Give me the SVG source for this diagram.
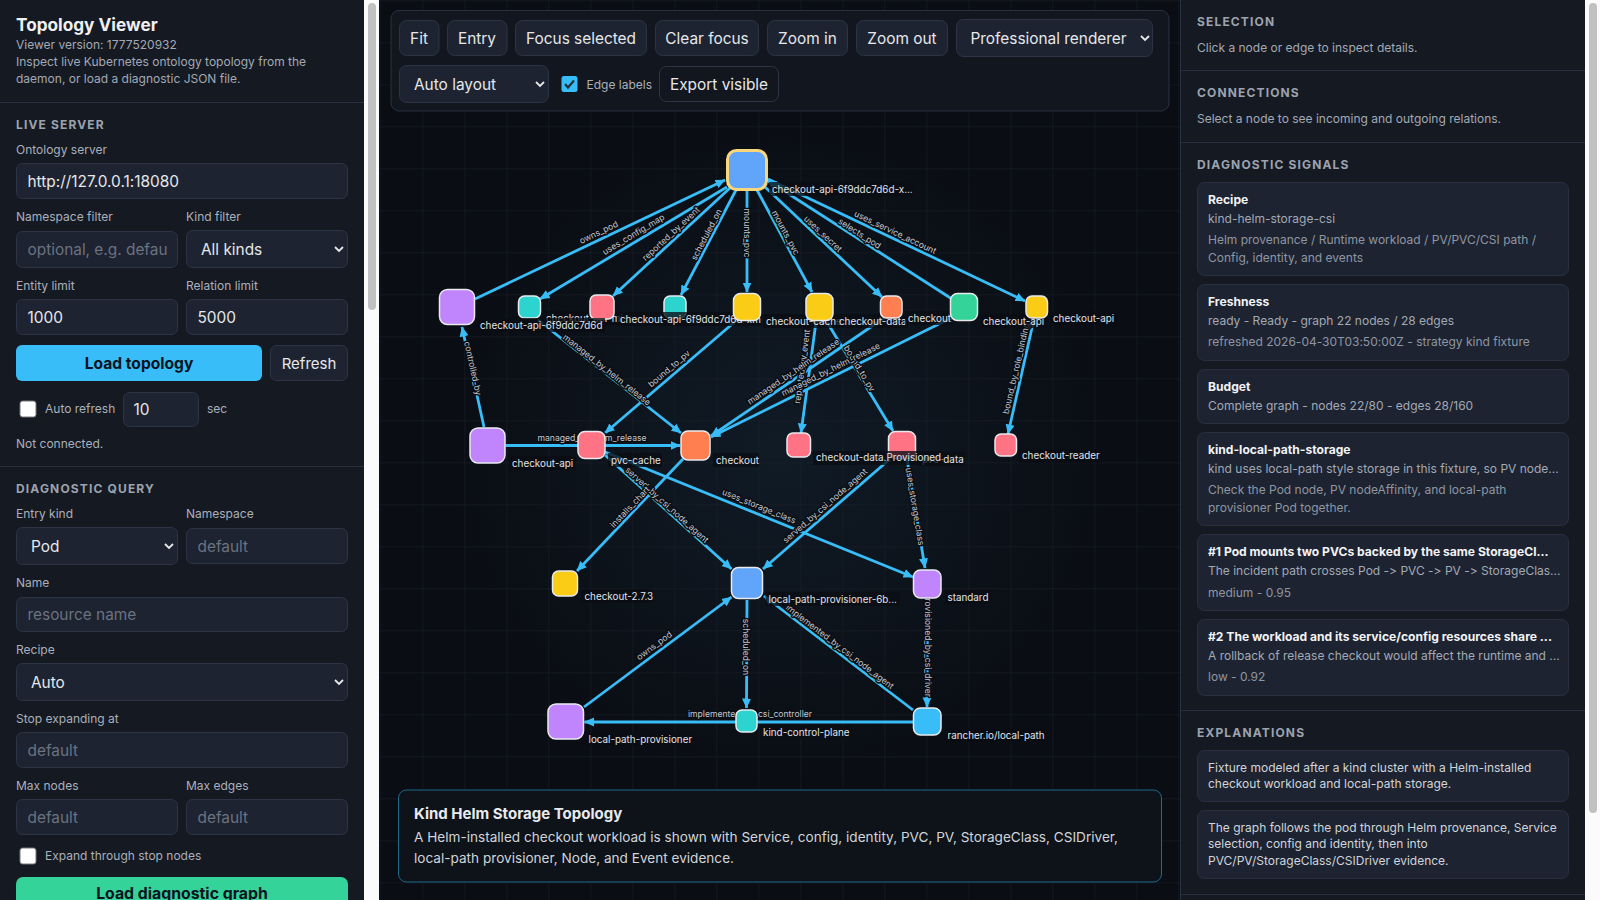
<svg xmlns="http://www.w3.org/2000/svg" width="1600" height="900" viewBox="0 0 1600 900">
<style>
text{font-family:Inter,"Noto Sans","Liberation Sans",sans-serif;font-feature-settings:"calt" 0,"liga" 0;font-variant-ligatures:none}
.panel{fill:#151922}
.div{stroke:#2a3040;stroke-width:1}
.h{font-size:12px;font-weight:700;letter-spacing:1.15px;fill:#9ca3af}
.l{font-size:12px;fill:#aab0bb}
.m{font-size:12px;fill:#a3a9b5}
.in{fill:#1d2330;stroke:#2d3445;stroke-width:1}
.v{font-size:15.400px;fill:#e5e7eb}
.ph{font-size:15.400px;fill:#6b7280}
.btn{fill:#1d2330;stroke:#2d3445;stroke-width:1}
.bt{font-size:15.400px;fill:#e5e7eb;text-anchor:middle}
.chev{fill:none;stroke:#e5e7eb;stroke-width:1.8}
.card{fill:#1d2330;stroke:#2a3040;stroke-width:1}
.ct{font-size:12.100px;font-weight:700;fill:#f1f3f6}
.cs{font-size:12px;fill:#a3a9b5}
.cd{font-size:12px;fill:#8f96a3}
.ex{font-size:12px;fill:#d1d5db}
.sbt{fill:#fbfbfb}
.sbh{fill:#c1c1c1}
.edges line{stroke:#38bdf8;stroke-width:2.800;marker-end:url(#arr)}
.el{font-size:8.600px;fill:#c3c8d0;text-anchor:middle;paint-order:stroke;stroke:#0a0e14;stroke-width:3px;stroke-linejoin:round}
.n{stroke:#e8eaee;stroke-width:1.500}
.lb{fill:#0a0d13;opacity:.78}
.nl{font-size:9.850px;fill:#e1e4e9}
</style>
<defs>
<marker id="arr" markerUnits="userSpaceOnUse" markerWidth="11" markerHeight="10" refX="9.500" refY="5" orient="auto"><path d="M0,0.500 L10,5 L0,9.500 Z" fill="#38bdf8"/></marker>
<pattern id="grid" width="42" height="42" patternUnits="userSpaceOnUse" x="2.300" y="0.300"><path d="M0 0H42M0 0V42" fill="none" stroke="#1b2029" stroke-width="1"/></pattern>
<radialGradient id="glow" gradientUnits="userSpaceOnUse" cx="780" cy="450" r="340"><stop offset="0" stop-color="#101b26"/><stop offset="1" stop-color="#0a0d13"/></radialGradient>
</defs>
<rect width="1600" height="900" fill="#0a0d13"/>
<rect x="379" y="0" width="802" height="900" fill="url(#glow)"/>
<rect x="379" y="0" width="802" height="900" fill="url(#grid)"/>

<g id="connectors" class="edges">
<line x1="475" y1="299" x2="725" y2="180"/>
<line x1="727" y1="187" x2="540" y2="299"/>
<line x1="730" y1="188" x2="613" y2="296"/>
<line x1="736" y1="190" x2="681" y2="295"/>
<line x1="747" y1="191" x2="747" y2="292"/>
<line x1="757" y1="190" x2="812" y2="292"/>
<line x1="765" y1="187" x2="882" y2="297"/>
<line x1="952" y1="299" x2="767" y2="180"/>
<line x1="768" y1="179" x2="1025" y2="301"/>
<line x1="484" y1="427" x2="462" y2="327"/>
<line x1="505.500" y1="445.500" x2="680" y2="445.500"/>
<line x1="538" y1="320" x2="681" y2="433"/>
<line x1="737" y1="320" x2="605" y2="433"/>
<line x1="816" y1="322" x2="801" y2="433"/>
<line x1="884" y1="318" x2="711" y2="436"/>
<line x1="951" y1="318" x2="711" y2="437"/>
<line x1="827" y1="322" x2="893" y2="431"/>
<line x1="1034" y1="319" x2="1008" y2="434"/>
<line x1="683" y1="459" x2="577" y2="571"/>
<line x1="605" y1="455" x2="731.500" y2="569"/>
<line x1="890" y1="459" x2="763" y2="569"/>
<line x1="907" y1="459" x2="925" y2="568"/>
<line x1="605" y1="452" x2="913" y2="577"/>
<line x1="927.500" y1="599" x2="927" y2="707"/>
<line x1="584" y1="707" x2="731.500" y2="597"/>
<line x1="747" y1="600" x2="746.500" y2="708"/>
<line x1="913" y1="710" x2="764" y2="596"/>
<line x1="913" y1="722" x2="584.500" y2="722"/>
<text class="el" transform="translate(600 235) rotate(-25.400)">owns_pod</text>
<text class="el" transform="translate(635 237) rotate(-31)">uses_config_map</text>
<text class="el" transform="translate(673 236) rotate(-42.800)">reported_by_event</text>
<text class="el" transform="translate(709 236) rotate(-62.400)">scheduled_on</text>
<text class="el" transform="translate(744 233) rotate(90)">mounts_pvc</text>
<text class="el" transform="translate(783 234) rotate(61.700)">mounts_pvc</text>
<text class="el" transform="translate(821 236) rotate(43.200)">uses_secret</text>
<text class="el" transform="translate(858 236) rotate(32.700)">selects_pod</text>
<text class="el" transform="translate(894 235) rotate(25.400)">uses_service_account</text>
<text class="el" transform="translate(470 369) rotate(77.600)">controlled_by</text>
<text class="el" transform="translate(592 441)">managed_by_helm_release</text>
<text class="el" transform="translate(605 372) rotate(38.300)">managed_by_helm_release</text>
<text class="el" transform="translate(671 371) rotate(-40.500)">bound_to_pv</text>
<text class="el" transform="translate(805 367) rotate(-82.300)">reported_by_event</text>
<text class="el" transform="translate(857 370) rotate(58.800)">bound_to_pv</text>
<text class="el" transform="translate(795 374) rotate(-34.300)">managed_by_helm_release</text>
<text class="el" transform="translate(832 372) rotate(-26.400)">managed_by_helm_release</text>
<text class="el" transform="translate(1019 369) rotate(-77)">bound_by_role_binding</text>
<text class="el" transform="translate(665 507) rotate(42)">served_by_csi_node_agent</text>
<text class="el" transform="translate(632 509) rotate(-46.600)">installs_chart</text>
<text class="el" transform="translate(758 509) rotate(22.100)">uses_storage_class</text>
<text class="el" transform="translate(827 508) rotate(-41)">served_by_csi_node_agent</text>
<text class="el" transform="translate(912 507) rotate(80.600)">uses_storage_class</text>
<text class="el" transform="translate(656 648) rotate(-36.700)">owns_pod</text>
<text class="el" transform="translate(743 647) rotate(90)">scheduled_on</text>
<text class="el" transform="translate(838 649) rotate(37.400)">implemented_by_csi_node_agent</text>
<text class="el" transform="translate(925 645) rotate(90)">provisioned_by_csi_driver</text>
<text class="el" transform="translate(750 717)">implemented_by_csi_controller</text>
</g>

<g id="node-c"><rect class="n" x="518.500" y="296" width="22" height="22" rx="6" fill="#2dd4cf"/><rect class="lb" x="543" y="311" width="75" height="14"/><text class="nl" x="546" y="321.500">checkout-api-mi</text></g>
<g id="node-e"><rect class="n" x="664" y="296" width="22" height="22" rx="6" fill="#2dd4cf"/></g>
<g id="node-d"><rect class="n" x="590" y="295" width="24" height="24" rx="6" fill="#ff7385"/><rect class="lb" x="617" y="312" width="145" height="14"/><text class="nl" x="620" y="322.500">checkout-api-6f9ddc7d6d-xm</text></g>
<g id="node-b"><rect class="n" x="439.500" y="289.500" width="35" height="35" rx="8" fill="#c084fc"/><rect class="lb" x="477" y="318" width="128" height="14"/><text class="nl" x="480" y="328.500">checkout-api-6f9ddc7d6d</text></g>
<g id="node-a"><rect x="727.500" y="150.500" width="39" height="39" rx="9" fill="#60a5fa" stroke="#f8d77a" stroke-width="3"/><rect class="lb" x="769" y="182" width="146" height="14"/><text class="nl" x="772" y="192.500">checkout-api-6f9ddc7d6d-x...</text></g>
<g id="node-f"><rect class="n" x="733.500" y="293.500" width="27" height="27" rx="7" fill="#facc15"/><rect class="lb" x="763" y="314" width="76" height="14"/><text class="nl" x="766" y="324.500">checkout-cache</text></g>
<g id="node-g"><rect class="n" x="806" y="293.500" width="27" height="27" rx="7" fill="#facc15"/><rect class="lb" x="836" y="314" width="72" height="14"/><text class="nl" x="839" y="324.500">checkout-data</text></g>
<g id="node-h"><rect class="n" x="880.500" y="296" width="21.500" height="22" rx="6" fill="#ff7f50"/><rect class="lb" x="905" y="311" width="46" height="14"/><text class="nl" x="908" y="321.500">checkout</text></g>
<g id="node-i"><rect class="n" x="950.500" y="293.500" width="27" height="27" rx="7" fill="#34d399"/><rect class="lb" x="980" y="314" width="67" height="14"/><text class="nl" x="983" y="324.500">checkout-api</text></g>
<g id="node-j"><rect class="n" x="1026" y="296" width="21.500" height="22" rx="6" fill="#facc15"/><rect class="lb" x="1050" y="311" width="67" height="14"/><text class="nl" x="1053" y="321.500">checkout-api</text></g>
<g id="node-k"><rect class="n" x="470" y="428" width="35" height="35" rx="8" fill="#c084fc"/><rect class="lb" x="509" y="456" width="67" height="14"/><text class="nl" x="512" y="466.500">checkout-api</text></g>
<g id="node-l"><rect class="n" x="578" y="431.500" width="27" height="27" rx="7" fill="#ff7385"/><rect class="lb" x="608" y="453" width="54" height="14"/><text class="nl" x="611" y="463.500">pvc-cache</text></g>
<g id="node-m"><rect class="n" x="681" y="431" width="29" height="29" rx="7" fill="#ff7f50"/><rect class="lb" x="713" y="453" width="46" height="14"/><text class="nl" x="716" y="463.500">checkout</text></g>
<g id="node-o"><rect class="n" x="888.500" y="431.500" width="27" height="27" rx="7" fill="#ff7385"/><rect class="lb" x="919" y="452" width="46" height="14"/><text class="nl" x="922" y="462.500">pvc-data</text></g>
<g id="node-n"><rect class="n" x="787" y="433" width="23.500" height="24" rx="6" fill="#ff7385"/><rect class="lb" x="813" y="451" width="129" height="14"/><text class="nl" x="816" y="461">checkout-data.Provisioned</text></g>
<g id="node-p"><rect class="n" x="995" y="434" width="21.500" height="22" rx="6" fill="#ff7385"/><rect class="lb" x="1019" y="449" width="82" height="14"/><text class="nl" x="1022" y="459">checkout-reader</text></g>
<g id="node-q"><rect class="n" x="552.500" y="571" width="25" height="25" rx="6" fill="#facc15"/><rect class="lb" x="581" y="589" width="72" height="14"/><text class="nl" x="584.500" y="599.500">checkout-2.7.3</text></g>
<g id="node-r"><rect class="n" x="731.500" y="567.500" width="31" height="31" rx="7" fill="#60a5fa"/><rect class="lb" x="765.500" y="592" width="134" height="14"/><text class="nl" x="768.500" y="602.500">local-path-provisioner-6b...</text></g>
<g id="node-s"><rect class="n" x="913.500" y="570" width="27.500" height="28" rx="7" fill="#c084fc"/><rect class="lb" x="944.500" y="590" width="46" height="14"/><text class="nl" x="947.500" y="600.500">standard</text></g>
<g id="node-t"><rect class="n" x="548" y="704" width="35.500" height="35" rx="8" fill="#c084fc"/><rect class="lb" x="585.500" y="732" width="110" height="14"/><text class="nl" x="588.500" y="742.500">local-path-provisioner</text></g>
<g id="node-u"><rect class="n" x="736" y="710" width="21" height="22" rx="6" fill="#2dd4cf"/><rect class="lb" x="760" y="725" width="92" height="14"/><text class="nl" x="763" y="735.500">kind-control-plane</text></g>
<g id="node-v"><rect class="n" x="913.500" y="708" width="27.500" height="27" rx="7" fill="#38bdf8"/><rect class="lb" x="944.500" y="728" width="101" height="14"/><text class="nl" x="947.500" y="738.500">rancher.io/local-path</text></g>

<rect x="391" y="10.500" width="778" height="100.500" rx="8" fill="#12161e" stroke="#2a3040"/>
<rect class="btn" x="399.500" y="20.500" width="39.500" height="35" rx="7"/><text class="bt" x="419" y="43.500">Fit</text>
<rect class="btn" x="447.500" y="20.500" width="59.500" height="35" rx="7"/><text class="bt" x="477" y="43.500">Entry</text>
<rect class="btn" x="515.500" y="20.500" width="131" height="35" rx="7"/><text class="bt" x="581" y="43.500">Focus selected</text>
<rect class="btn" x="655.500" y="20.500" width="103" height="35" rx="7"/><text class="bt" x="707" y="43.500">Clear focus</text>
<rect class="btn" x="767.500" y="20.500" width="80" height="35" rx="7"/><text class="bt" x="807.500" y="43.500">Zoom in</text>
<rect class="btn" x="856.500" y="20.500" width="91" height="35" rx="7"/><text class="bt" x="902" y="43.500">Zoom out</text>
<rect class="btn" x="956.500" y="19.500" width="196" height="37" rx="7"/><text class="v" x="970.500" y="43.500">Professional renderer</text><path class="chev" d="M1141 36l4 4 4-4"/>
<rect class="btn" x="399.500" y="65.500" width="149" height="37" rx="7"/><text class="v" x="414" y="90">Auto layout</text><path class="chev" d="M536 82l4 4 4-4"/>
<rect x="561.500" y="76" width="16" height="16" rx="2.500" fill="#38bdf8"/><path d="M565 84l3 3.500 6-7" fill="none" stroke="#22303c" stroke-width="2.200"/>
<text class="l" x="586.500" y="88.500" fill="#9ca3af">Edge labels</text>
<rect x="659.500" y="66.500" width="119" height="35" rx="7" fill="#12161e" stroke="#2d3445"/><text class="bt" x="719" y="90">Export visible</text>

<rect x="398.500" y="790" width="763" height="92" rx="8" fill="#0e1219" stroke="#1e6a8c"/>
<text x="414" y="818.500" font-size="15" font-weight="700" fill="#e8eaee">Kind Helm Storage Topology</text>
<text x="414" y="842" font-size="13.600" fill="#d1d5db">A Helm-installed checkout workload is shown with Service, config, identity, PVC, PV, StorageClass, CSIDriver,</text>
<text x="414" y="863" font-size="13.600" fill="#d1d5db">local-path provisioner, Node, and Event evidence.</text>

<g id="left-panel">
<rect class="panel" x="0" y="0" width="364" height="900"/>
<rect class="sbt" x="364" y="0" width="15" height="900"/><rect class="sbh" x="368" y="3" width="8" height="307" rx="4"/>
<text x="16" y="31" font-size="17.200" font-weight="700" fill="#eef0f3">Topology Viewer</text>
<text class="m" x="16" y="49">Viewer version: 1777520932</text>
<text class="m" x="16" y="66">Inspect live Kubernetes ontology topology from the</text>
<text class="m" x="16" y="83">daemon, or load a diagnostic JSON file.</text>
<line class="div" x1="0" y1="102.500" x2="364" y2="102.500"/>
<text class="h" x="16" y="129">LIVE SERVER</text>
<text class="l" x="16" y="154">Ontology server</text>
<rect class="in" x="16.500" y="163.500" width="331" height="35" rx="6"/><text class="v" x="27.500" y="186.500">http://127.0.0.1:18080</text>
<text class="l" x="16" y="221">Namespace filter</text><text class="l" x="186" y="221">Kind filter</text>
<rect class="in" x="16.500" y="231.500" width="161" height="36" rx="6"/><text class="ph" x="27.500" y="254.500">optional, e.g. defau</text>
<rect class="in" x="186.500" y="230.500" width="161" height="37" rx="6"/><text class="v" x="201" y="254.500">All kinds</text><path class="chev" d="M335 247l4 4 4-4"/>
<text class="l" x="16" y="290">Entity limit</text><text class="l" x="186" y="290">Relation limit</text>
<rect class="in" x="16.500" y="299.500" width="161" height="35" rx="6"/><text class="v" x="27.500" y="322.500">1000</text>
<rect class="in" x="186.500" y="299.500" width="161" height="35" rx="6"/><text class="v" x="197.500" y="322.500">5000</text>
<rect x="16" y="345" width="246" height="36" rx="6" fill="#38bdf8"/><text x="139" y="368.500" font-size="15.600" font-weight="700" fill="#0b1220" text-anchor="middle">Load topology</text>
<rect class="btn" x="270.500" y="345.500" width="77" height="35" rx="6"/><text x="309" y="368.500" font-size="15" fill="#e5e7eb" text-anchor="middle">Refresh</text>
<rect x="20" y="401" width="16" height="16" rx="2.500" fill="#fff" stroke="#767676"/>
<text class="l" x="45" y="413">Auto refresh</text>
<rect class="in" x="123.500" y="392.500" width="75" height="34" rx="6"/><text class="v" x="133.500" y="414.500">10</text>
<text class="l" x="207" y="413">sec</text>
<text class="l" x="16" y="448">Not connected.</text>
<line class="div" x1="0" y1="466.500" x2="364" y2="466.500"/>
<text class="h" x="16" y="493">DIAGNOSTIC QUERY</text>
<text class="l" x="16" y="518">Entry kind</text><text class="l" x="186" y="518">Namespace</text>
<rect class="in" x="16.500" y="527.500" width="161" height="37" rx="6"/><text class="v" x="31" y="551.500">Pod</text><path class="chev" d="M165 544l4 4 4-4"/>
<rect class="in" x="186.500" y="528.500" width="161" height="35" rx="6"/><text class="ph" x="197.500" y="551.500">default</text>
<text class="l" x="16" y="587">Name</text>
<rect class="in" x="16.500" y="597.500" width="331" height="34" rx="6"/><text class="ph" x="27.500" y="619.500">resource name</text>
<text class="l" x="16" y="654">Recipe</text>
<rect class="in" x="16.500" y="663.500" width="331" height="37" rx="6"/><text class="v" x="31" y="687.500">Auto</text><path class="chev" d="M335 680l4 4 4-4"/>
<text class="l" x="16" y="723">Stop expanding at</text>
<rect class="in" x="16.500" y="732.500" width="331" height="35" rx="6"/><text class="ph" x="27.500" y="755.500">default</text>
<text class="l" x="16" y="790">Max nodes</text><text class="l" x="186" y="790">Max edges</text>
<rect class="in" x="16.500" y="799.500" width="161" height="35" rx="6"/><text class="ph" x="27.500" y="822.500">default</text>
<rect class="in" x="186.500" y="799.500" width="161" height="35" rx="6"/><text class="ph" x="197.500" y="822.500">default</text>
<rect x="20" y="848" width="16" height="16" rx="2.500" fill="#fff" stroke="#767676"/>
<text class="l" x="45" y="860">Expand through stop nodes</text>
<rect x="16" y="877" width="332" height="40" rx="7" fill="#34d399"/><text x="182" y="899" font-size="15.800" font-weight="700" fill="#0b1220" text-anchor="middle">Load diagnostic graph</text>
</g>

<g id="right-panel">
<rect class="panel" x="1181" y="0" width="404" height="900"/>
<line class="div" x1="1180.500" y1="0" x2="1180.500" y2="900"/>
<rect class="sbt" x="1585" y="0" width="15" height="900"/><rect class="sbh" x="1589" y="3" width="8" height="810" rx="4"/>
<text class="h" x="1197" y="26">SELECTION</text>
<text class="m" x="1197" y="52">Click a node or edge to inspect details.</text>
<line class="div" x1="1181" y1="70.500" x2="1585" y2="70.500"/>
<text class="h" x="1197" y="97">CONNECTIONS</text>
<text class="m" x="1197" y="123">Select a node to see incoming and outgoing relations.</text>
<line class="div" x1="1181" y1="142.500" x2="1585" y2="142.500"/>
<text class="h" x="1197" y="169">DIAGNOSTIC SIGNALS</text>
<rect class="card" x="1197.500" y="182.500" width="371" height="93" rx="7"/>
<text class="ct" x="1208" y="204">Recipe</text><text class="cs" x="1208" y="223">kind-helm-storage-csi</text>
<text class="cd" x="1208" y="244">Helm provenance / Runtime workload / PV/PVC/CSI path /</text><text class="cd" x="1208" y="262">Config, identity, and events</text>
<rect class="card" x="1197.500" y="284.500" width="371" height="76" rx="7"/>
<text class="ct" x="1208" y="306">Freshness</text><text class="cs" x="1208" y="325">ready - Ready - graph 22 nodes / 28 edges</text>
<text class="cd" x="1208" y="346">refreshed 2026-04-30T03:50:00Z - strategy kind fixture</text>
<rect class="card" x="1197.500" y="369.500" width="371" height="54" rx="7"/>
<text class="ct" x="1208" y="391">Budget</text><text class="cs" x="1208" y="409.500">Complete graph - nodes 22/80 - edges 28/160</text>
<rect class="card" x="1197.500" y="432.500" width="371" height="93" rx="7"/>
<text class="ct" x="1208" y="454">kind-local-path-storage</text><text class="cs" x="1208" y="473">kind uses local-path style storage in this fixture, so PV node...</text>
<text class="cd" x="1208" y="494">Check the Pod node, PV nodeAffinity, and local-path</text><text class="cd" x="1208" y="512">provisioner Pod together.</text>
<rect class="card" x="1197.500" y="534.500" width="371" height="76" rx="7"/>
<text class="ct" x="1208" y="556">#1 Pod mounts two PVCs backed by the same StorageCl...</text><text class="cs" x="1208" y="575">The incident path crosses Pod -&gt; PVC -&gt; PV -&gt; StorageClas...</text>
<text class="cd" x="1208" y="597">medium - 0.95</text>
<rect class="card" x="1197.500" y="619.500" width="371" height="76" rx="7"/>
<text class="ct" x="1208" y="641">#2 The workload and its service/config resources share ...</text><text class="cs" x="1208" y="660">A rollback of release checkout would affect the runtime and ...</text>
<text class="cd" x="1208" y="681">low - 0.92</text>
<line class="div" x1="1181" y1="710.500" x2="1585" y2="710.500"/>
<text class="h" x="1197" y="737">EXPLANATIONS</text>
<rect class="card" x="1197.500" y="750.500" width="371" height="51" rx="7"/>
<text class="ex" x="1208" y="771.500">Fixture modeled after a kind cluster with a Helm-installed</text><text class="ex" x="1208" y="788">checkout workload and local-path storage.</text>
<rect class="card" x="1197.500" y="810.500" width="371" height="68" rx="7"/>
<text class="ex" x="1208" y="832">The graph follows the pod through Helm provenance, Service</text><text class="ex" x="1208" y="848">selection, config and identity, then into</text><text class="ex" x="1208" y="865">PVC/PV/StorageClass/CSIDriver evidence.</text>
<line class="div" x1="1181" y1="894.500" x2="1585" y2="894.500"/>
</g>
</svg>
